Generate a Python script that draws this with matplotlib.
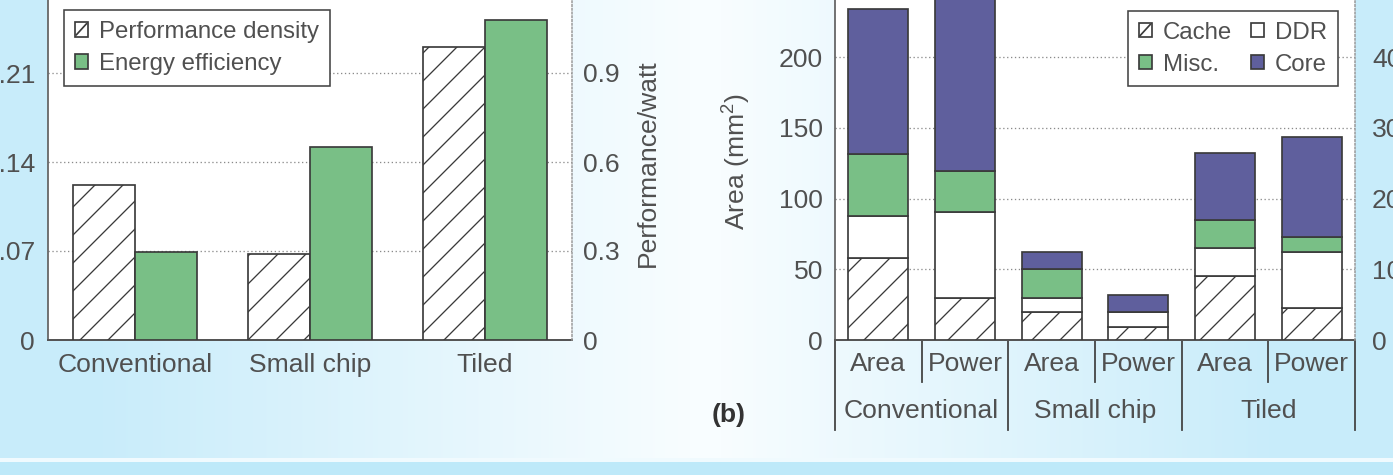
import numpy as np
import matplotlib
matplotlib.use("Agg")
import matplotlib.pyplot as plt
from matplotlib.patches import Rectangle, Patch
from matplotlib.lines import Line2D
from matplotlib.legend_handler import HandlerBase
import matplotlib.transforms as mtransforms

# ---------------- data ----------------
configs = ["Conventional", "Small chip", "Tiled"]
perf_density = [0.122, 0.0675, 0.2305]      # left axis
energy_eff = [0.298, 0.652, 1.08]            # performance/watt (right axis)

left_yticks = [0, 0.07, 0.14, 0.21]
left_yticklabels = ["0", "0.07", "0.14", "0.21"]
right_yticks = [0, 0.3, 0.6, 0.9]
right_yticklabels = ["0", "0.3", "0.6", "0.9"]

metrics = ["Area", "Power"]
# Area (mm^2)
area_cache = [58, 20, 45]
area_ddr = [30, 9.5, 20]
area_misc = [43.5, 20.5, 20]
area_core = [102.5, 12, 47]
# Power (W)
power_cache = [60, 19, 45]
power_ddr = [121, 21, 79]
power_misc = [58, 0, 22]
power_core = [271, 24, 141]

area_ticks = [0, 50, 100, 150, 200]
power_ticks = [0, 100, 200, 300, 400]

# ---------------- style ----------------
DPI = 168
W, H = 1393, 475


def px(v):
    return v * 72.0 / DPI


plt.rcParams["font.family"] = ["Liberation Sans", "DejaVu Sans"]
plt.rcParams["mathtext.fontset"] = "custom"
plt.rcParams["mathtext.rm"] = "Liberation Sans"
plt.rcParams["mathtext.it"] = "Liberation Sans"
plt.rcParams["hatch.linewidth"] = px(1.3)

TXT = "#505050"
EC = "#3a3a3a"
GREEN = "#79bf86"
PURPLE = "#5f5f9d"
GRID = "#8a8a8a"
fs_tick = px(26.5)
fs_leg = px(24)
lw_bar = px(1.7)
HATCH = "//"

fig = plt.figure(figsize=(W / DPI, H / DPI), dpi=DPI)

# background gradient
xs = np.arange(W)
w = np.where(xs < 700, np.clip((690 - xs) / 600.0, 0, 1), np.clip((xs - 720) / 560.0, 0, 1))
light = np.array([200, 236, 250]) / 255.0
white = np.array([248, 253, 255]) / 255.0
row = white[None, :] * (1 - w[:, None]) + light[None, :] * w[:, None]
bg = np.repeat(row[None, :, :], H, axis=0)
bg[458:462, :, :] = np.array([240, 250, 254]) / 255.0
bg[462:, :, :] = np.array([190, 233, 249]) / 255.0
axbg = fig.add_axes([0, 0, 1, 1], zorder=-5)
axbg.imshow(bg, aspect="auto", extent=(0, 1, 0, 1), interpolation="bilinear")
axbg.set_axis_off()


def ax_rect(x0, x1, ytop, ybot):
    return [x0 / W, 1 - ybot / H, (x1 - x0) / W, (ybot - ytop) / H]


class HatchHandler(HandlerBase):
    def create_artists(self, legend, orig_handle, xdescent, ydescent,
                       width, height, fontsize, trans):
        r = Rectangle((-xdescent, -ydescent), width, height, facecolor="white",
                      edgecolor=EC, lw=lw_bar, transform=trans)
        l = Line2D([-xdescent + 0.12 * width, -xdescent + 0.88 * width],
                   [-ydescent + 0.12 * height, -ydescent + 0.88 * height],
                   color=EC, lw=lw_bar, transform=trans)
        return [r, l]


def style_axes(ax, ax2, lpad, rpad):
    ax.set_facecolor("white")
    ax.set_axisbelow(True)
    ax.yaxis.grid(True, linestyle=(0, (1, 2)), color=GRID, lw=px(1.3))
    ax.xaxis.grid(False)
    for s in ["top", "right"]:
        ax.spines[s].set_visible(False)
    ax.spines["left"].set_color("#666666")
    ax.spines["left"].set_linewidth(px(1.8))
    ax.spines["bottom"].set_color("#555555")
    ax.spines["bottom"].set_linewidth(px(2.0))
    for s in ["top", "left", "bottom"]:
        ax2.spines[s].set_visible(False)
    ax2.spines["right"].set_linestyle((0, (1, 1.5)))
    ax2.spines["right"].set_color("#999999")
    ax2.spines["right"].set_linewidth(px(1.5))
    ax.tick_params(axis="both", length=0, labelsize=fs_tick, labelcolor=TXT)
    ax.tick_params(axis="y", pad=px(lpad))
    ax2.tick_params(axis="y", length=0, labelsize=fs_tick, labelcolor=TXT, pad=px(rpad))


leg_kw = dict(bbox_transform=fig.transFigure, borderaxespad=0,
              fontsize=fs_leg, fancybox=False, framealpha=1,
              edgecolor="#444444", handlelength=0.55, handleheight=0.55,
              handletextpad=0.45, labelspacing=0.42, borderpad=0.45,
              labelcolor=TXT)

# ---------------- left panel ----------------
axL = fig.add_axes(ax_rect(48, 572, 340 - 356, 340))
axL2 = axL.twinx()
x = np.arange(len(configs))
bw = 0.355
axL.bar(x - bw / 2, perf_density, bw, facecolor="white", edgecolor=EC,
        hatch=HATCH, lw=lw_bar, zorder=3)
axL2.bar(x + bw / 2, energy_eff, bw, color=GREEN, edgecolor=EC, lw=lw_bar, zorder=3)
axL.set_xlim(-0.5, 2.5)
axL2.set_xlim(-0.5, 2.5)
axL.set_ylim(0, 0.28)
axL2.set_ylim(0, 1.2)
axL.set_yticks(left_yticks)
axL.set_yticklabels(left_yticklabels)
axL2.set_yticks(right_yticks)
axL2.set_yticklabels(right_yticklabels)
axL.set_xticks(x)
axL.set_xticklabels(configs)
style_axes(axL, axL2, 13, 11)
axL.tick_params(axis="x", pad=px(13))

hatch_handle = Patch(facecolor="white", edgecolor=EC)
green_handle = Patch(facecolor=GREEN, edgecolor=EC, lw=lw_bar)
legL = axL2.legend([hatch_handle, green_handle],
                   ["Performance density", "Energy efficiency"],
                   handler_map={hatch_handle: HatchHandler()},
                   loc="upper left", bbox_to_anchor=(64 / W, 1 - 10 / H), **leg_kw)
legL.get_frame().set_linewidth(px(1.6))

fig.text(648 / W, 1 - 163 / H, "Performance/watt", rotation=90, ha="center",
         va="center", fontsize=fs_tick, color=TXT)

# ---------------- right panel ----------------
axR = fig.add_axes(ax_rect(835, 1355, 340 - 353.5, 340))
axR2 = axR.twinx()
pos_area = np.arange(len(configs)) * 2
pos_power = pos_area + 1
bw2 = 0.69

bottom = np.zeros(3)
for vals, fc, hatch in [(area_cache, "white", HATCH), (area_ddr, "white", None),
                        (area_misc, GREEN, None), (area_core, PURPLE, None)]:
    axR.bar(pos_area, vals, bw2, bottom=bottom, facecolor=fc, edgecolor=EC,
            hatch=hatch, lw=lw_bar, zorder=3)
    bottom = bottom + np.array(vals)

bottom = np.zeros(3)
for vals, fc, hatch in [(power_cache, "white", HATCH), (power_ddr, "white", None),
                        (power_misc, GREEN, None), (power_core, PURPLE, None)]:
    axR2.bar(pos_power, vals, bw2, bottom=bottom, facecolor=fc, edgecolor=EC,
             hatch=hatch, lw=lw_bar, zorder=3)
    bottom = bottom + np.array(vals)

axR.set_xlim(-0.5, 5.5)
axR2.set_xlim(-0.5, 5.5)
axR.set_ylim(0, 250)
axR2.set_ylim(0, 500)
axR.set_yticks(area_ticks)
axR2.set_yticks(power_ticks)
allpos = np.arange(6)
axR.set_xticks(allpos)
axR.set_xticklabels(metrics * 3)
style_axes(axR, axR2, 12, 17)
axR.tick_params(axis="x", pad=px(12))

# separators below the axis
trans = mtransforms.blended_transform_factory(axR.transData, axR.transAxes)
short_y = -42 / 353.5
long_y = -90 / 353.5
for p in pos_area + 0.5:
    axR.plot([p, p], [0, short_y], transform=trans, color="#444444",
             lw=px(1.8), clip_on=False)
for p in np.append(pos_area - 0.5, 5.5):
    axR.plot([p, p], [0, long_y], transform=trans, color="#444444",
             lw=px(1.8), clip_on=False)
for c, p in zip(configs, pos_area + 0.5):
    axR.text(p, -71 / 353.5, c, transform=trans, ha="center", va="center",
             fontsize=fs_tick, color=TXT)

cache_h = Patch(facecolor="white", edgecolor=EC)
ddr_h = Patch(facecolor="white", edgecolor=EC, lw=lw_bar)
misc_h = Patch(facecolor=GREEN, edgecolor=EC, lw=lw_bar)
core_h = Patch(facecolor=PURPLE, edgecolor=EC, lw=lw_bar)
legR = axR2.legend([cache_h, misc_h, ddr_h, core_h], ["Cache", "Misc.", "DDR", "Core"],
                   handler_map={cache_h: HatchHandler()}, ncol=2,
                   loc="upper right", bbox_to_anchor=(1338 / W, 1 - 10.7 / H),
                   columnspacing=0.8, **leg_kw)
legR.get_frame().set_linewidth(px(1.6))

fig.text(737 / W, 1 - 162 / H, "Area (mm$^{2}$)", rotation=90, ha="center",
         va="center", fontsize=fs_tick, color=TXT)
fig.text(729 / W, 1 - 415 / H, "(b)", ha="center", va="center",
         fontsize=fs_tick, fontweight="bold", color="#333333")

fig.savefig("out.png", dpi=DPI)
